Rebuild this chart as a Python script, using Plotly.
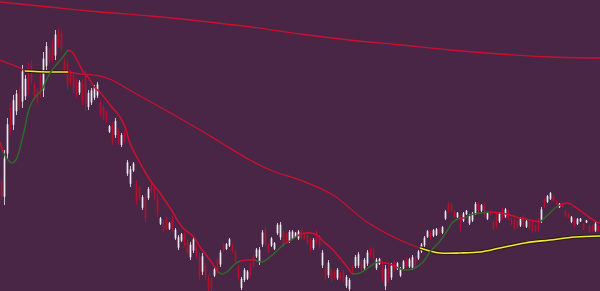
import plotly.graph_objects as go

# ---- candle data (index 0..199) ----
HIGH = [113, 141, 173, 188, 196, 201, 204, 226, 216, 229,
        231, 209, 203, 219, 239, 249, 243, 251, 261, 263,
        261, 233, 231, 221, 218, 213, 211, 211, 221, 201,
        203, 206, 209, 191, 186, 181, 166, 169, 173, 163,
        158, 161, 131, 125, 129, 111, 106, 96, 98, 104,
        108, 106, 98, 74, 71, 74, 69, 76, 63, 56,
        58, 59, 51, 49, 54, 46, 38, 38, 28, 16,
        13, 23, 34, 41, 48, 48, 53, 48, 41, 26,
        14, 23, 21, 28, 36, 43, 44, 61, 64, 48,
        54, 49, 68, 69, 61, 58, 61, 61, 59, 61,
        63, 58, 58, 53, 53, 61, 56, 41, 26, 31,
        23, 21, 23, 19, 21, 16, 13, 26, 36, 39,
        31, 33, 41, 44, 43, 33, 33, 28, 26, 26,
        28, 31, 29, 24, 31, 33, 33, 36, 35, 41,
        48, 55, 61, 61, 62, 63, 63, 65, 81, 89,
        88, 81, 79, 76, 79, 81, 77, 79, 89, 89,
        87, 88, 79, 81, 71, 78, 79, 83, 83, 81,
        73, 73, 71, 74, 76, 71, 71, 71, 66, 73,
        84, 93, 96, 99, 96, 91, 88, 88, 81, 78,
        75, 73, 73, 73, 68, 71, 66, 66, 69, 66]
LOW = [91, 86, 131, 156, 161, 176, 181, 183, 191, 196,
       206, 191, 186, 193, 194, 221, 228, 229, 231, 243,
       239, 216, 201, 206, 198, 193, 196, 186, 181, 181,
       186, 191, 193, 174, 171, 168, 158, 146, 153, 146,
       144, 148, 115, 104, 119, 86, 91, 81, 68, 91,
       98, 91, 74, 66, 59, 61, 61, 59, 51, 41,
       49, 44, 36, 31, 38, 33, 11, 16, 11, 0,
       0, 14, 18, 24, 39, 41, 44, 38, 29, 11,
       1, 9, 11, 14, 23, 33, 26, 44, 44, 38,
       44, 41, 56, 51, 44, 49, 48, 51, 53, 51,
       51, 51, 46, 39, 41, 46, 43, 23, 11, 13,
       9, 11, 11, 11, 9, 3, 0, 16, 23, 23,
       19, 21, 25, 34, 31, 21, 26, 9, 1, 8,
       11, 19, 21, 14, 21, 23, 23, 21, 24, 31,
       38, 44, 53, 51, 54, 55, 57, 57, 71, 78,
       79, 73, 73, 59, 69, 76, 66, 69, 76, 79,
       79, 74, 71, 75, 61, 63, 68, 71, 73, 71,
       66, 61, 63, 64, 64, 63, 61, 58, 59, 59,
       68, 83, 88, 91, 89, 86, 83, 83, 74, 73,
       68, 63, 66, 69, 61, 68, 58, 59, 59, 59]
DIRECTION = "".join([
    "rwwrwwrwwr", "rrrrwwrrwr", "rrrrrrwrrw", "wwwrrrwrwr", "wrwwwrrwrw",
    "rrrwrrwrww", "wrrwwrrwrr", "rwrwrwwrrr", "wwwrrwwwrr", "wwwwrrwwww",
    "rrrrwrrwrw", "rrwrrwwrww", "rwwrrwwrwr", "wrwwwrwwrw", "wwwrwwrwwr",
    "rrwrwwwwwr", "wrwrrrwrwr", "rrrwrwrrrr", "wrwwrrwrrr", "wrwwrwrrwr"])

# ---- indicator lines (x in candle-index units) ----
LONG_X = [-0.5, 16, 33, 49.5, 66, 83, 99.5, 116, 133, 149.5, 166, 183, 199.5]
LONG_V = [289, 284, 279, 275, 270, 264, 257, 251, 246, 241, 237, 234, 233]

MID_X = [-0.5, 2.8, 6.2, 7.8, 11.2, 16.2, 22.2, 26.2, 32.8, 36.8, 43.8, 52.8, 66.2,
         72.8, 82.8, 91.2, 99.5, 110.5, 121.8, 132.8, 139.5, 142.8, 146.2, 152.8,
         159.5, 166.2, 174.5, 182.8, 191.2, 199.5]
MID_V = [231, 227, 223, 220, 219.5, 219, 219, 217, 215, 211, 199, 184, 161,
         149, 131, 119, 111, 96, 69, 51, 43, 40, 38, 38,
         39, 43, 48, 51, 54, 55]
MID_C = "rrryyyrrrrrrrrrrrrrryyyyyyyyyy"

SHORT_X = [-0.5, 0.5, 2.2, 3.5, 4.8, 5.8, 6.8, 7.8, 8.8, 10.2, 11.8, 13.5, 14.5, 16.2,
           18.2, 20.2, 22.2, 23.5, 25.5, 27.2, 28.8, 31.2, 32.8, 36.2, 39.5, 41.2,
           42.8, 46.2, 49.5, 52.8, 56.2, 60.5, 63.8, 66.2, 69.5, 72.2, 73.5, 75.5,
           77.8, 79.5, 81.8, 84.5, 86.8, 89.5, 92.8, 94.5, 96.2, 98.5, 101.2, 105.2,
           106.8, 110.5, 112.8, 115.5, 116.8, 119.5, 122.2, 124.5, 126.2, 129.5,
           132.2, 134.5, 137.8, 140.5, 142.8, 146.2, 148.5, 150.5, 152.8, 154.5,
           156.2, 159.5, 162.8, 166.2, 169.5, 172.8, 176.2, 179.5, 182.8, 184.5,
           186.2, 188.8, 191.2, 193.5, 196.2, 198.5, 199.5]
SHORT_V = [149, 139, 131, 128, 131, 139, 151, 163, 178, 189, 196, 201, 208, 218,
           226, 233, 241, 239, 229, 219, 214, 203, 199, 186, 174, 164,
           148, 128, 111, 98, 83, 63, 55, 44, 31, 19, 17, 20,
           27, 30, 31, 31, 29, 34, 43, 48, 50, 55, 58, 56,
           51, 41, 33, 23, 17, 18, 23, 28, 29, 27,
           23, 21, 23, 29, 39, 50, 60, 69, 73, 73,
           76, 78, 79, 78, 76, 73, 71, 69, 78, 83,
           86, 88, 84, 79, 73, 69, 68]
SHORT_C = ("rggggggggggggggg" "rrrrrrrrrrrrrrrrrrr" "gggg" "rr" "gggg" "r" "g"
           "rrrrrrr" "gggg" "rr" "gggggggg" "r" "ggg" "rrrrr" "ggg" "rrrrrrr")

BG = "#492546"
RED = "#cc1030"
CANDLE_RED = "#b8122e"
GREEN = "#2f6a2a"
YELLOW = "#f2e640"

assert len(HIGH) == len(LOW) == len(DIRECTION) == 200
assert len(MID_X) == len(MID_V) == len(MID_C)
assert len(SHORT_X) == len(SHORT_V) == len(SHORT_C)

idx = list(range(len(HIGH)))
opens, closes = [], []
for h, l, d in zip(HIGH, LOW, DIRECTION):
    pad = 0.15 * (h - l)
    if d == "w":
        opens.append(l + pad); closes.append(h - pad)
    else:
        opens.append(h - pad); closes.append(l + pad)


def runs(xs, vs, cols):
    out, start = [], 0
    for k in range(1, len(cols)):
        if cols[k] != cols[start]:
            out.append((cols[start], xs[start:k + 1], vs[start:k + 1]))
            start = k
    if start < len(xs) - 1:
        out.append((cols[start], xs[start:], vs[start:]))
    return out


fig = go.Figure()
fig.add_trace(go.Candlestick(
    x=idx, open=opens, high=HIGH, low=LOW, close=closes,
    increasing=dict(line=dict(color="#f4eef4", width=0.8), fillcolor="#ffffff"),
    decreasing=dict(line=dict(color=CANDLE_RED, width=0.8), fillcolor=CANDLE_RED),
    whiskerwidth=0, hoverinfo="skip"))

fig.add_trace(go.Scatter(x=LONG_X, y=LONG_V, mode="lines",
                         line=dict(color=RED, width=1.3, shape="spline"), hoverinfo="skip"))

for c, xs, vs in runs(MID_X, MID_V, MID_C):
    if c == "y":
        fig.add_trace(go.Scatter(x=xs, y=vs, mode="lines",
                                 line=dict(color="#2a1a08", width=3.5, shape="spline"), hoverinfo="skip"))
        fig.add_trace(go.Scatter(x=xs, y=vs, mode="lines",
                                 line=dict(color=YELLOW, width=1.6, shape="spline"), hoverinfo="skip"))
    else:
        fig.add_trace(go.Scatter(x=xs, y=vs, mode="lines",
                                 line=dict(color=RED, width=1.3, shape="spline"), hoverinfo="skip"))

for c, xs, vs in runs(SHORT_X, SHORT_V, SHORT_C):
    fig.add_trace(go.Scatter(x=xs, y=vs, mode="lines",
                             line=dict(color=GREEN if c == "g" else RED, width=1.5, shape="spline"),
                             hoverinfo="skip"))

fig.update_layout(
    width=600, height=291, margin=dict(l=0, r=0, t=0, b=0),
    paper_bgcolor=BG, plot_bgcolor=BG, showlegend=False, boxgap=0.6,
    xaxis=dict(range=[-0.5, 199.5], visible=False, rangeslider=dict(visible=False)),
    yaxis=dict(range=[0, 291], visible=False),
)
fig.write_html("out.html")
